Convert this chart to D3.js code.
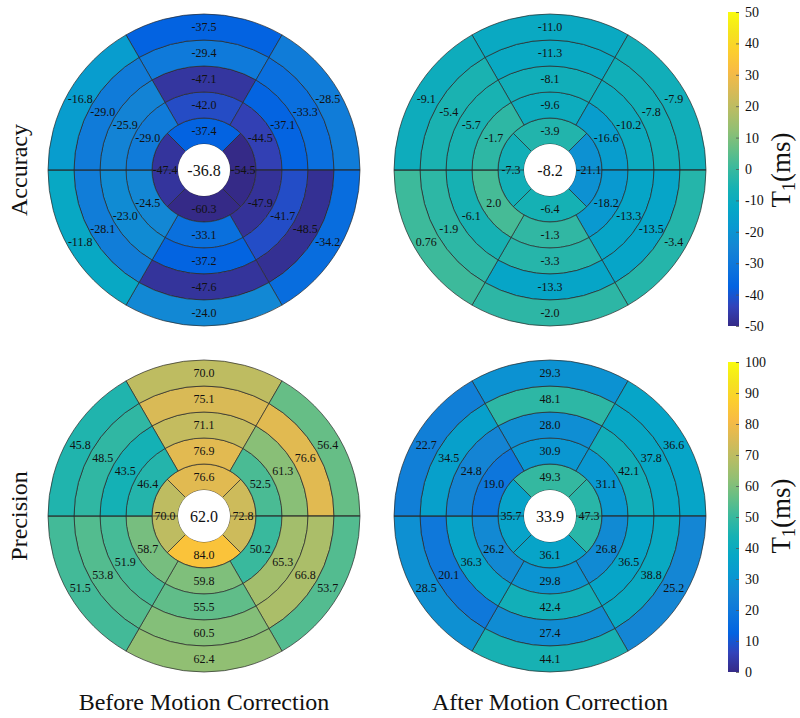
<!DOCTYPE html>
<html>
<head>
<meta charset="utf-8">
<script src="https://cdn.jsdelivr.net/npm/d3@7"></script>
<style>
body { margin: 0; background: #fff; }
</style>
</head>
<body>
<div id="chart"></div>
<script>
var width = 800, height = 718;
var serif = "'Liberation Serif', 'Times New Roman', Times, 'DejaVu Serif', serif";

// ring values: ring 1 has 4 segments (top, right, bottom, left),
// rings 2-5 have 6 segments (top, upper right, lower right, bottom, lower left, upper left)
var accBeforeCenter = -36.8;
var accBeforeRings = [
  [-37.4, -54.5, -60.3, -47.4],
  [-42.0, -44.5, -47.9, -33.1, -24.5, -29.0],
  [-47.1, -37.1, -41.7, -37.2, -23.0, -25.9],
  [-29.4, -33.3, -48.5, -47.6, -28.1, -29.0],
  [-37.5, -28.5, -34.2, -24.0, -11.8, -16.8]
];
var accAfterCenter = -8.2;
var accAfterRings = [
  [-3.9, -21.1, -6.4, -7.3],
  [-9.6, -16.6, -18.2, -1.3, 2.0, -1.7],
  [-8.1, -10.2, -13.3, -3.3, -6.1, -5.7],
  [-11.3, -7.8, -13.5, -13.3, -1.9, -5.4],
  [-11.0, -7.9, -3.4, -2.0, 0.76, -9.1]
];
var precBeforeCenter = 62.0;
var precBeforeRings = [
  [76.6, 72.8, 84.0, 70.0],
  [76.9, 52.5, 50.2, 59.8, 58.7, 46.4],
  [71.1, 61.3, 65.3, 55.5, 51.9, 43.5],
  [75.1, 76.6, 66.8, 60.5, 53.8, 48.5],
  [70.0, 56.4, 53.7, 62.4, 51.5, 45.8]
];
var precAfterCenter = 33.9;
var precAfterRings = [
  [49.3, 47.3, 36.1, 35.7],
  [30.9, 31.1, 26.8, 29.8, 26.2, 19.0],
  [28.0, 42.1, 36.5, 42.4, 36.3, 24.8],
  [48.1, 37.8, 38.8, 27.4, 20.1, 34.5],
  [29.3, 36.6, 25.2, 44.1, 28.5, 22.7]
];

var rowLabels = ["Accuracy", "Precision"];
var colLabels = ["Before Motion Correction", "After Motion Correction"];
var accDomain = [-50, 50];
var precDomain = [0, 100];
var accTicks = [-50, -40, -30, -20, -10, 0, 10, 20, 30, 40, 50];
var precTicks = [0, 10, 20, 30, 40, 50, 60, 70, 80, 90, 100];

// parula colormap (every 4th entry of the 64 level map)
var parula = ["#352a87", "#3243ba", "#0363e1", "#0d75dc", "#1485d4", "#0998d1",
  "#06a7c6", "#15b1b4", "#38b99e", "#65be86", "#92bf73", "#b7bd64",
  "#d9ba56", "#f8bb44", "#fcce2e", "#f5e41d", "#f9fb0e"];

function makeColor(domain) {
  var n = parula.length;
  return d3.scaleLinear()
    .domain(parula.map(function (c, i) { return domain[0] + (domain[1] - domain[0]) * i / (n - 1); }))
    .range(parula)
    .interpolate(d3.interpolateRgb)
    .clamp(true);
}
var accColor = makeColor(accDomain);
var precColor = makeColor(precDomain);

var locale = d3.formatLocale({ decimal: ".", thousands: ",", grouping: [3], currency: ["", ""], minus: "-" });
var f1 = locale.format(".1f"), f2 = locale.format(".2f"), fd = locale.format("d");
var fmt = function (v) { return Math.abs(v) < 1 && v !== 0 ? f2(v) : f1(v); };

var R = 156;
var colX = [204, 550];
var rowY = [170, 516];
var rScale = d3.scaleLinear().domain([0, 6]).range([0, R]);

var svg = d3.select("#chart").append("svg")
  .attr("width", width)
  .attr("height", height)
  .style("font-family", serif);

var panels = [
  { center: accBeforeCenter, rings: accBeforeRings, row: 0, col: 0, color: accColor },
  { center: accAfterCenter, rings: accAfterRings, row: 0, col: 1, color: accColor },
  { center: precBeforeCenter, rings: precBeforeRings, row: 1, col: 0, color: precColor },
  { center: precAfterCenter, rings: precAfterRings, row: 1, col: 1, color: precColor }
];

panels.forEach(function (p) {
  var g = svg.append("g")
    .attr("transform", "translate(" + colX[p.col] + "," + rowY[p.row] + ")");

  var segs = [];
  p.rings.forEach(function (vals, ri) {
    var n = vals.length;
    var step = 2 * Math.PI / n;
    vals.forEach(function (v, si) {
      segs.push({
        value: v,
        innerRadius: rScale(ri + 1),
        outerRadius: rScale(ri + 2),
        startAngle: -step / 2 + si * step,
        endAngle: step / 2 + si * step
      });
    });
  });

  var arc = d3.arc();

  g.selectAll("path.seg")
    .data(segs)
    .enter()
    .append("path")
      .attr("class", "seg")
      .attr("d", arc)
      .attr("fill", function (d) { return p.color(d.value); })
      .attr("stroke", "#2a2a2a")
      .attr("stroke-width", 0.7);

  // horizontal line across the rings
  [-1, 1].forEach(function (s) {
    g.append("line")
      .attr("x1", s * rScale(1)).attr("x2", s * R)
      .attr("y1", 0).attr("y2", 0)
      .attr("stroke", "#2a2a2a")
      .attr("stroke-width", 0.7);
  });

  g.append("circle")
    .attr("r", rScale(1))
    .attr("fill", "#fff");

  g.selectAll("text.seg")
    .data(segs)
    .enter()
    .append("text")
      .attr("class", "seg")
      .attr("transform", function (d) { return "translate(" + arc.centroid(d) + ")"; })
      .attr("text-anchor", "middle")
      .attr("dy", "0.35em")
      .style("font-family", serif)
      .style("font-size", "12px")
      .attr("fill", "#111")
      .text(function (d) { return fmt(d.value); });

  g.append("text")
    .attr("text-anchor", "middle")
    .attr("dy", "0.35em")
    .style("font-family", serif)
    .style("font-size", "16px")
    .attr("fill", "#111")
    .text(fmt(p.center));
});

// colorbars
var barX = 728, barW = 11;
var bars = [
  { domain: accDomain, ticks: accTicks, y0: 12, y1: 326, id: "gradAcc" },
  { domain: precDomain, ticks: precTicks, y0: 362, y1: 672, id: "gradPrec" }
];
var defs = svg.append("defs");

bars.forEach(function (b, i) {
  var grad = defs.append("linearGradient")
    .attr("id", b.id)
    .attr("x1", 0).attr("y1", 1).attr("x2", 0).attr("y2", 0);
  grad.selectAll("stop")
    .data(parula)
    .enter()
    .append("stop")
      .attr("offset", function (c, k) { return k / (parula.length - 1); })
      .attr("stop-color", function (c) { return c; });

  svg.append("rect")
    .attr("x", barX).attr("y", b.y0)
    .attr("width", barW).attr("height", b.y1 - b.y0)
    .attr("fill", "url(#" + b.id + ")");

  var y = d3.scaleLinear().domain(b.domain).range([b.y1, b.y0]);
  var ax = svg.append("g")
    .attr("transform", "translate(" + (barX + barW) + ",0)")
    .call(d3.axisRight(y).tickValues(b.ticks).tickSize(-3).tickPadding(6).tickFormat(fd));
  ax.attr("font-family", null).attr("font-size", null);
  ax.select(".domain").remove();
  ax.selectAll(".tick line").attr("stroke", "#555").attr("stroke-width", 0.8);
  ax.selectAll(".tick text")
    .style("font-family", serif)
    .style("font-size", "14px")
    .attr("fill", "#111");

  var lab = svg.append("text")
    .attr("transform", "translate(790," + rowY[i] + ") rotate(-90)")
    .attr("text-anchor", "middle")
    .style("font-family", serif)
    .style("font-size", "27px")
    .attr("fill", "#111");
  lab.append("tspan").text("T");
  lab.append("tspan").attr("dy", 5).style("font-size", "18px").text("1");
  lab.append("tspan").attr("dy", -5).text("(ms)");
});

// row and column titles
rowLabels.forEach(function (t, i) {
  svg.append("text")
    .attr("transform", "translate(27," + rowY[i] + ") rotate(-90)")
    .attr("text-anchor", "middle")
    .style("font-family", serif)
    .style("font-size", "24px")
    .attr("fill", "#111")
    .text(t);
});

colLabels.forEach(function (t, i) {
  svg.append("text")
    .attr("x", colX[i])
    .attr("y", 710)
    .attr("text-anchor", "middle")
    .style("font-family", serif)
    .style("font-size", "24px")
    .attr("fill", "#111")
    .text(t);
});
</script>
</body>
</html>
